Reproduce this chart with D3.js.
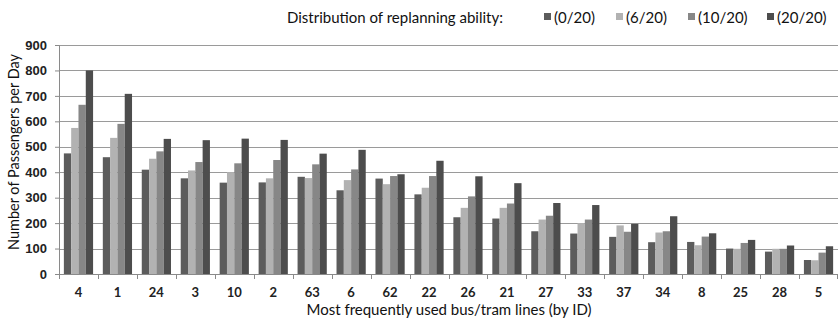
<!DOCTYPE html>
<html>
<head>
<meta charset="utf-8">
<script src="https://cdn.jsdelivr.net/npm/d3@7"></script>
<style>
  body { margin: 0; background: #fff; overflow: hidden; }
  svg { display: block; font-family: Lato, "Open Sans", sans-serif; }
</style>
</head>
<body>
<div id="chart"></div>
<script>
// Line IDs in display order
const lines = ['4', '1', '24', '3', '10', '2', '63', '6', '62', '22', '26', '21', '27', '33', '37', '34', '8', '25', '28', '5'];

// Series labels (replanning ability distribution)
const seriesNames = ['(0/20)', '(6/20)', '(10/20)', '(20/20)'];
const seriesColors = ['#5c5c5c', '#b2b2b2', '#878787', '#4d4d4d'];

// Passengers per day, one array per series
const ability0 = [474, 459, 410, 376, 359, 360, 382, 329, 375, 313, 223, 218, 168, 159, 146, 125, 126, 100, 88, 55];
const ability6 = [574, 535, 453, 407, 400, 376, 377, 369, 353, 339, 260, 260, 214, 200, 191, 163, 113, 99, 99, 54];
const ability10 = [665, 590, 482, 440, 435, 448, 431, 411, 385, 385, 305, 277, 229, 214, 166, 168, 147, 122, 99, 84];
const ability20 = [800, 708, 531, 526, 532, 527, 473, 488, 392, 445, 384, 357, 279, 271, 197, 227, 160, 134, 112, 109];

const yTicks = [0, 100, 200, 300, 400, 500, 600, 700, 800, 900];

const series = [ability0, ability6, ability10, ability20];

const width = 839;
const height = 320;
const margin = { top: 45, right: 1, bottom: 46, left: 59 };
const innerWidth = width - margin.left - margin.right;
const innerHeight = height - margin.top - margin.bottom;

const svg = d3.select('#chart')
  .append('svg')
  .attr('width', width)
  .attr('height', height);

const g = svg.append('g')
  .attr('transform', `translate(${margin.left},${margin.top})`);

// Scales
const xScale = d3.scaleBand()
  .domain(lines)
  .range([0, innerWidth])
  .paddingInner(0)
  .paddingOuter(0);

const xInner = d3.scaleBand()
  .domain(d3.range(series.length))
  .range([xScale.bandwidth() * 0.125, xScale.bandwidth() * 0.875]);

const yScale = d3.scaleLinear()
  .domain([0, 900])
  .range([innerHeight, 0]);

// Gridlines
g.selectAll('.grid')
  .data(yTicks.slice(1))
  .enter()
  .append('line')
  .attr('class', 'grid')
  .attr('x1', 0)
  .attr('x2', innerWidth)
  .attr('y1', d => Math.round(yScale(d)) + 0.5)
  .attr('y2', d => Math.round(yScale(d)) + 0.5)
  .attr('stroke', '#9a9a9a')
  .attr('stroke-width', 1);

// Bars
const groups = g.selectAll('.group')
  .data(lines)
  .enter()
  .append('g')
  .attr('class', 'group')
  .attr('transform', d => `translate(${xScale(d)},0)`);

groups.selectAll('rect')
  .data((d, i) => series.map((s, k) => ({ k, value: s[i] })))
  .enter()
  .append('rect')
  .attr('x', d => xInner(d.k))
  .attr('y', d => yScale(d.value))
  .attr('width', xInner.bandwidth())
  .attr('height', d => innerHeight - yScale(d.value))
  .attr('fill', d => seriesColors[d.k]);

// Y axis
const yAxis = d3.axisLeft(yScale)
  .tickValues(yTicks)
  .tickSize(4)
  .tickPadding(8);

const yAxisG = g.append('g').call(yAxis);
yAxisG.select('.domain').attr('stroke', '#8a8a8a');
yAxisG.selectAll('.tick line').attr('stroke', '#8a8a8a');
yAxisG.selectAll('.tick text')
  .style('font-size', '13px')
  .style('font-weight', 'bold')
  .style('fill', '#222');

// X axis: ticks at category boundaries, labels at centres
const xAxisG = g.append('g')
  .attr('transform', `translate(0,${innerHeight})`);

xAxisG.append('line')
  .attr('x1', 0)
  .attr('x2', innerWidth)
  .attr('y1', 0.5)
  .attr('y2', 0.5)
  .attr('stroke', '#8a8a8a');

xAxisG.selectAll('.xtick')
  .data(lines.concat(['end']))
  .enter()
  .append('line')
  .attr('class', 'xtick')
  .attr('x1', (d, i) => Math.min(Math.round(i * xScale.step()) + 0.5, innerWidth - 0.5))
  .attr('x2', (d, i) => Math.min(Math.round(i * xScale.step()) + 0.5, innerWidth - 0.5))
  .attr('y1', 0)
  .attr('y2', 5)
  .attr('stroke', '#8a8a8a');

xAxisG.selectAll('.xlabel')
  .data(lines)
  .enter()
  .append('text')
  .attr('class', 'xlabel')
  .attr('x', d => xScale(d) + xScale.bandwidth() / 2)
  .attr('y', 23)
  .attr('text-anchor', 'middle')
  .style('font-size', '13px')
  .style('font-weight', 'bold')
  .style('fill', '#222')
  .text(d => d);

// Axis titles
svg.append('text')
  .attr('x', 449)
  .attr('y', 315)
  .attr('text-anchor', 'middle')
  .style('font-size', '15px')
  .style('fill', '#111')
  .text('Most frequently used bus/tram lines (by ID)');

svg.append('text')
  .attr('transform', 'translate(19,152) rotate(-90)')
  .attr('text-anchor', 'middle')
  .style('font-size', '14.5px')
  .style('fill', '#111')
  .text('Number of Passengers per Day');

// Legend
const legend = svg.append('g');
legend.append('text')
  .attr('x', 287)
  .attr('y', 23)
  .style('font-size', '15px')
  .style('fill', '#111')
  .text('Distribution of replanning ability:');

const legendX = [544, 616, 688, 767];
const legendItems = legend.selectAll('.legend-item')
  .data(seriesNames)
  .enter()
  .append('g')
  .attr('class', 'legend-item')
  .attr('transform', (d, i) => `translate(${legendX[i]},0)`);

legendItems.append('rect')
  .attr('x', 0)
  .attr('y', 13)
  .attr('width', 7)
  .attr('height', 7)
  .attr('fill', (d, i) => seriesColors[i]);

legendItems.append('text')
  .attr('x', 10)
  .attr('y', 23)
  .style('font-size', '15px')
  .style('fill', '#111')
  .text(d => d);
</script>
</body>
</html>
